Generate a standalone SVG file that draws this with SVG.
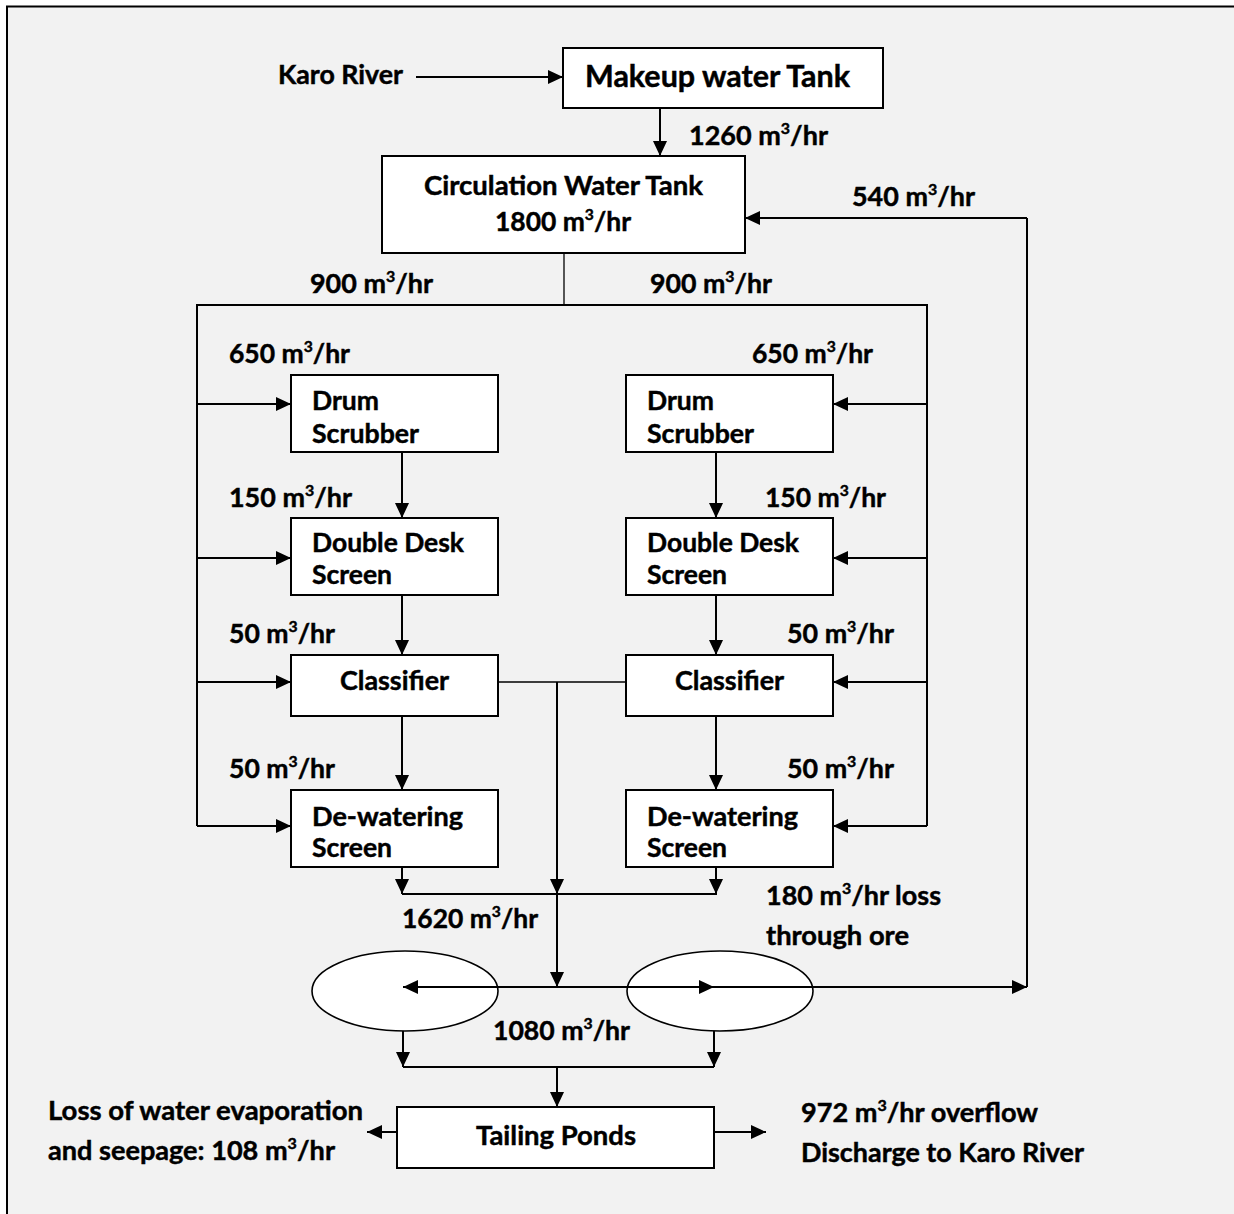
<svg xmlns="http://www.w3.org/2000/svg" width="1234" height="1214" viewBox="0 0 1234 1214">
<defs>
<style>
.t{font-family:Lato,"Liberation Sans",sans-serif;font-weight:700;font-size:27px;fill:#000;stroke:#000;stroke-width:0.45}
.big{font-size:30px}
.sup{font-size:16px}
.box{fill:#fff;stroke:#000;stroke-width:2}
.ell{fill:#fff;stroke:#000;stroke-width:1.6}
.ln{fill:none;stroke:#000;stroke-width:2}
.thin{fill:none;stroke:#000;stroke-width:1.3}
.ar{fill:none;stroke:#000;stroke-width:2;marker-end:url(#ah)}
</style>
<marker id="ah" viewBox="0 0 15 14" refX="15" refY="7" markerWidth="15" markerHeight="14" markerUnits="userSpaceOnUse" orient="auto">
<path d="M0,0 L15,7 L0,14 z" fill="#000"/>
</marker>
</defs>
<rect x="0" y="0" width="1234" height="1214" fill="#fff"/>
<rect x="7" y="6.5" width="1240" height="1220" fill="#f2f2f2"/>
<path d="M7,1214 V6.5 H1234" fill="none" stroke="#000" stroke-width="2"/>

<g id="connectors">
<path class="ar" d="M416,77 H563"/>
<path class="ar" d="M660,108 V156"/>
<path class="thin" d="M564,253 V305"/>
<path class="ln" d="M197,826 V305 H927 V826"/>
<path class="ar" d="M197,404 H291"/>
<path class="ar" d="M197,558 H291"/>
<path class="ar" d="M197,682 H291"/>
<path class="ar" d="M197,826 H291"/>
<path class="ar" d="M927,404 H833"/>
<path class="ar" d="M927,558 H833"/>
<path class="ar" d="M927,682 H833"/>
<path class="ar" d="M927,826 H833"/>
<path class="ar" d="M402,452 V518"/>
<path class="ar" d="M402,595 V655"/>
<path class="ar" d="M402,716 V790"/>
<path class="ar" d="M716,452 V518"/>
<path class="ar" d="M716,595 V655"/>
<path class="ar" d="M716,716 V790"/>
<path class="thin" d="M498,682 H626"/>
<path class="ar" d="M557,682 V894"/>
<path class="ar" d="M402,867 V894"/>
<path class="ar" d="M716,867 V894"/>
<path class="ln" d="M402,894 H717"/>
</g>

<g id="pond1"><ellipse class="ell" cx="405" cy="991" rx="93" ry="40"/></g>
<g id="pond2"><ellipse class="ell" cx="720" cy="991" rx="93" ry="40"/></g>

<g id="connectors2">
<path class="ar" d="M557,894 V987"/>
<path class="ar" d="M557,987 H403"/>
<path class="ar" d="M557,987 H714"/>
<path class="ar" d="M714,987 H1027"/>
<path class="ln" d="M1027,987 V218"/>
<path class="ar" d="M1027,218 H745"/>
<path class="ar" d="M403,1031 V1067"/>
<path class="ar" d="M714,1031 V1067"/>
<path class="ln" d="M403,1067 H714"/>
<path class="ar" d="M557,1067 V1107"/>
<path class="ar" d="M397,1132 H367"/>
<path class="ar" d="M714,1132 H766"/>
</g>

<g id="makeup">
<rect class="box" x="563" y="48" width="320" height="60"/>
<text class="t big" x="585" y="87" textLength="265" lengthAdjust="spacingAndGlyphs">Makeup water Tank</text>
</g>
<g id="circulation">
<rect class="box" x="382" y="156" width="363" height="97"/>
<text class="t" x="424" y="195" textLength="279" lengthAdjust="spacingAndGlyphs">Circulation Water Tank</text>
<text class="t" x="495" y="231" textLength="136" lengthAdjust="spacingAndGlyphs">1800 m<tspan class="sup" dy="-11">3</tspan><tspan dy="11">/hr</tspan></text>
</g>
<g id="drum-left">
<rect class="box" x="291" y="375" width="207" height="77"/>
<text class="t" x="312" y="410" textLength="67" lengthAdjust="spacingAndGlyphs">Drum</text>
<text class="t" x="312" y="443" textLength="107" lengthAdjust="spacingAndGlyphs">Scrubber</text>
</g>
<g id="drum-right">
<rect class="box" x="626" y="375" width="207" height="77"/>
<text class="t" x="647" y="410" textLength="67" lengthAdjust="spacingAndGlyphs">Drum</text>
<text class="t" x="647" y="443" textLength="107" lengthAdjust="spacingAndGlyphs">Scrubber</text>
</g>
<g id="ddscreen-left">
<rect class="box" x="291" y="518" width="207" height="77"/>
<text class="t" x="312" y="552" textLength="152" lengthAdjust="spacingAndGlyphs">Double Desk</text>
<text class="t" x="312" y="584" textLength="80" lengthAdjust="spacingAndGlyphs">Screen</text>
</g>
<g id="ddscreen-right">
<rect class="box" x="626" y="518" width="207" height="77"/>
<text class="t" x="647" y="552" textLength="152" lengthAdjust="spacingAndGlyphs">Double Desk</text>
<text class="t" x="647" y="584" textLength="80" lengthAdjust="spacingAndGlyphs">Screen</text>
</g>
<g id="classifier-left">
<rect class="box" x="291" y="655" width="207" height="61"/>
<text class="t" x="340" y="690" textLength="109" lengthAdjust="spacingAndGlyphs">Classifier</text>
</g>
<g id="classifier-right">
<rect class="box" x="626" y="655" width="207" height="61"/>
<text class="t" x="675" y="690" textLength="109" lengthAdjust="spacingAndGlyphs">Classifier</text>
</g>
<g id="dewater-left">
<rect class="box" x="291" y="790" width="207" height="77"/>
<text class="t" x="312" y="826" textLength="151" lengthAdjust="spacingAndGlyphs">De-watering</text>
<text class="t" x="312" y="857" textLength="80" lengthAdjust="spacingAndGlyphs">Screen</text>
</g>
<g id="dewater-right">
<rect class="box" x="626" y="790" width="207" height="77"/>
<text class="t" x="647" y="826" textLength="151" lengthAdjust="spacingAndGlyphs">De-watering</text>
<text class="t" x="647" y="857" textLength="80" lengthAdjust="spacingAndGlyphs">Screen</text>
</g>
<g id="tailing">
<rect class="box" x="397" y="1107" width="317" height="61"/>
<text class="t" x="476" y="1145" textLength="160" lengthAdjust="spacingAndGlyphs">Tailing Ponds</text>
</g>

<g id="labels">
<text class="t" x="278" y="84" textLength="125" lengthAdjust="spacingAndGlyphs">Karo River</text>
<text class="t" x="689" y="145" textLength="139" lengthAdjust="spacingAndGlyphs">1260 m<tspan class="sup" dy="-11">3</tspan><tspan dy="11">/hr</tspan></text>
<text class="t" x="852" y="206" textLength="123" lengthAdjust="spacingAndGlyphs">540 m<tspan class="sup" dy="-11">3</tspan><tspan dy="11">/hr</tspan></text>
<text class="t" x="310" y="293" textLength="123" lengthAdjust="spacingAndGlyphs">900 m<tspan class="sup" dy="-11">3</tspan><tspan dy="11">/hr</tspan></text>
<text class="t" x="650" y="293" textLength="122" lengthAdjust="spacingAndGlyphs">900 m<tspan class="sup" dy="-11">3</tspan><tspan dy="11">/hr</tspan></text>
<text class="t" x="229" y="363" textLength="121" lengthAdjust="spacingAndGlyphs">650 m<tspan class="sup" dy="-11">3</tspan><tspan dy="11">/hr</tspan></text>
<text class="t" x="752" y="363" textLength="121" lengthAdjust="spacingAndGlyphs">650 m<tspan class="sup" dy="-11">3</tspan><tspan dy="11">/hr</tspan></text>
<text class="t" x="229" y="507" textLength="123" lengthAdjust="spacingAndGlyphs">150 m<tspan class="sup" dy="-11">3</tspan><tspan dy="11">/hr</tspan></text>
<text class="t" x="765" y="507" textLength="121" lengthAdjust="spacingAndGlyphs">150 m<tspan class="sup" dy="-11">3</tspan><tspan dy="11">/hr</tspan></text>
<text class="t" x="229" y="643" textLength="106" lengthAdjust="spacingAndGlyphs">50 m<tspan class="sup" dy="-11">3</tspan><tspan dy="11">/hr</tspan></text>
<text class="t" x="787" y="643" textLength="107" lengthAdjust="spacingAndGlyphs">50 m<tspan class="sup" dy="-11">3</tspan><tspan dy="11">/hr</tspan></text>
<text class="t" x="229" y="778" textLength="106" lengthAdjust="spacingAndGlyphs">50 m<tspan class="sup" dy="-11">3</tspan><tspan dy="11">/hr</tspan></text>
<text class="t" x="787" y="778" textLength="107" lengthAdjust="spacingAndGlyphs">50 m<tspan class="sup" dy="-11">3</tspan><tspan dy="11">/hr</tspan></text>
<text class="t" x="402" y="928" textLength="136" lengthAdjust="spacingAndGlyphs">1620 m<tspan class="sup" dy="-11">3</tspan><tspan dy="11">/hr</tspan></text>
<text class="t" x="766" y="905" textLength="175" lengthAdjust="spacingAndGlyphs">180 m<tspan class="sup" dy="-11">3</tspan><tspan dy="11">/hr loss</tspan></text>
<text class="t" x="766" y="945" textLength="143" lengthAdjust="spacingAndGlyphs">through ore</text>
<text class="t" x="493" y="1040" textLength="137" lengthAdjust="spacingAndGlyphs">1080 m<tspan class="sup" dy="-11">3</tspan><tspan dy="11">/hr</tspan></text>
<text class="t" x="48" y="1120" textLength="315" lengthAdjust="spacingAndGlyphs">Loss of water evaporation</text>
<text class="t" x="48" y="1160" textLength="287" lengthAdjust="spacingAndGlyphs">and seepage: 108 m<tspan class="sup" dy="-11">3</tspan><tspan dy="11">/hr</tspan></text>
<text class="t" x="801" y="1122" textLength="237" lengthAdjust="spacingAndGlyphs">972 m<tspan class="sup" dy="-11">3</tspan><tspan dy="11">/hr overflow</tspan></text>
<text class="t" x="801" y="1162" textLength="283" lengthAdjust="spacingAndGlyphs">Discharge to Karo River</text>
</g>
</svg>
